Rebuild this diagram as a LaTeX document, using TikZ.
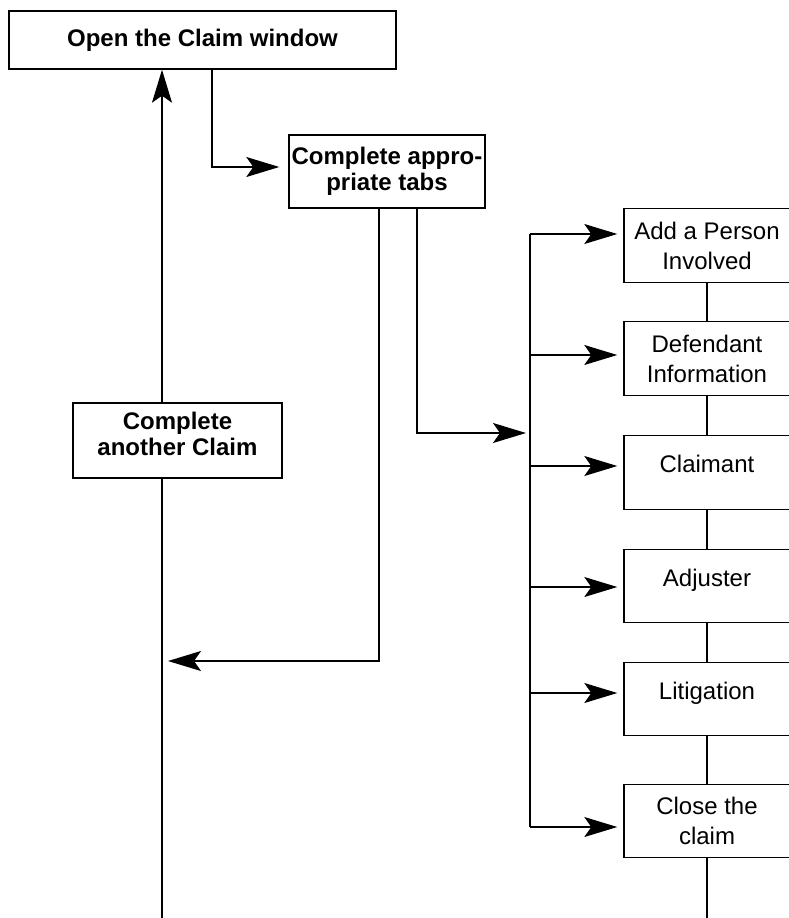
\documentclass[tikz,border=0pt]{standalone}
\usepackage{fontspec}
\setmainfont{Liberation Sans}
\usetikzlibrary{arrows.meta}

\begin{document}
\begin{tikzpicture}[x=1pt, y=-1pt, line width=1.4pt,
		box/.style={draw, rectangle, inner sep=2pt, align=center, font=\fontsize{24}{30}\selectfont},
		boldbox/.style={box, font=\fontsize{24}{26}\selectfont\bfseries},
		tabbox/.style={box, minimum width=166, minimum height=73.5},
		onerow/.style={text height=17pt, text depth=17pt},
		arr/.style={-{Stealth[length=33pt, width=20pt, inset=7pt]}}]
			\def \lx{162};
			\def \bx{530};
			\def \pad{\rule[-14pt]{0pt}{14pt}};
			\useasboundingbox (0,0) rectangle (788,918);
			\node[boldbox, minimum width=387, minimum height=58] (open) at (202.5,40) {Open the Claim window};
			\node[boldbox, minimum width=196, minimum height=73] (tabs) at (387,171.5) {Complete appro-\\priate tabs};
			\node[boldbox, minimum width=209, minimum height=75] (another) at (177.5,440.5) {Complete\\another Claim\pad};
			\node[tabbox] (person) at (707,245.5) {Add a Person\\Involved};
			\node[tabbox] (defendant) at (707,358.5) {Defendant\\Information};
			\node[tabbox, onerow] (claimant) at (707,472.5) {Claimant};
			\node[tabbox, onerow] (adjuster) at (707,586) {Adjuster};
			\node[tabbox, onerow] (litigation) at (707,699) {Litigation};
			\node[tabbox] (close) at (707,821) {Close the\\claim};
			\coordinate (back) at (\lx,661);
			\coordinate (hub) at (\bx,433);
			\coordinate (foot) at (\lx,918);
			\draw[arr] (\lx,0 |- another.north) -- (\lx,0 |- open.south);
			\draw (\lx,0 |- another.south) -- (foot);
			\draw[arr, shorten >=9pt] (212,0 |- open.south) |- (tabs.west |- 0,167);
			\draw[arr, shorten >=6pt] (379,0 |- tabs.south) |- (back);
			\draw[arr, shorten >=4pt] (417,0 |- tabs.south) |- (hub);
			\draw (\bx,234) -- (\bx,827);
			\foreach \b/\y in {person/234, defendant/355, claimant/466, adjuster/587, litigation/693, close/827}
				\draw[arr, shorten >=6pt] (\bx,\y) -- (\b.west |- 0,\y);
			\foreach \a/\b in {person/defendant, defendant/claimant, claimant/adjuster, adjuster/litigation, litigation/close}
				\draw (\a.south) -- (\b.north);
			\draw (close.south) -- (close.south |- foot);
		\end{tikzpicture}
\end{document}
